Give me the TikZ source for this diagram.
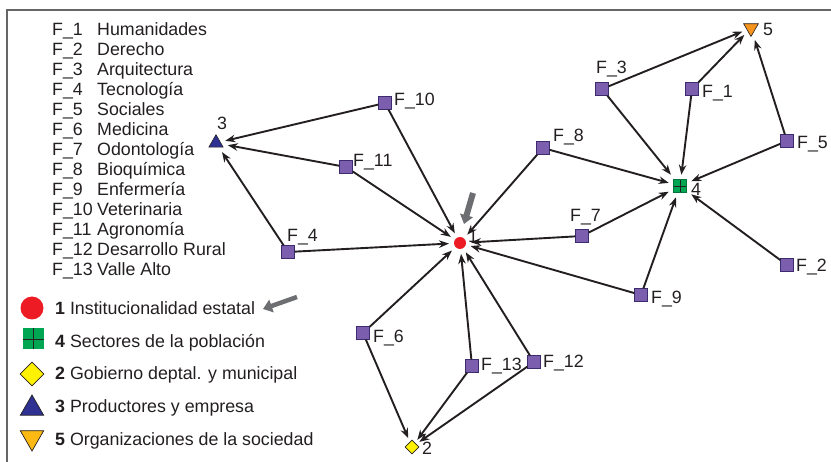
\documentclass[tikz,border=0pt]{standalone}
\usepackage{fontspec}
\setmainfont{Liberation Sans}
\usepackage{xcolor}
\usepackage{tikz}
\usetikzlibrary{shapes.geometric, positioning, arrows.meta}
\definecolor{InkBlack}{HTML}{231F20}
\definecolor{FrameGray}{HTML}{666666}
\definecolor{PointerGray}{HTML}{6D6E71}
\definecolor{FacPurple}{HTML}{7B5FAE}
\definecolor{FacEdge}{HTML}{3C2C6E}
\definecolor{StateRed}{HTML}{ED1C24}
\definecolor{PopGreen}{HTML}{00A651}
\definecolor{GovYellow}{HTML}{FFF200}
\definecolor{ProdBlue}{HTML}{2E3192}
\definecolor{OrgOrange}{HTML}{F7941D}
\definecolor{OrgAmber}{HTML}{FDB913}

\begin{document}
\begin{tikzpicture}[x=1pt, y=-1pt,
    every node/.style={font=\fontsize{17.8}{20}\selectfont, text=InkBlack},
    txt/.style={anchor=base west, inner sep=0pt},
    fac/.style={rectangle, draw=FacEdge, fill=FacPurple, line width=0.8pt, minimum size=12.5pt, inner sep=0pt},
    statenode/.style={circle, fill=StateRed, inner sep=0pt, minimum size=12pt, outer sep=5pt},
    popnode/.style={rectangle, fill=PopGreen, draw=PopGreen!70!black, line width=0.6pt, inner sep=0pt, minimum size=12.5pt, outer sep=5pt,
      path picture={\draw[InkBlack, line width=0.8pt] (path picture bounding box.north) -- (path picture bounding box.south)
        (path picture bounding box.west) -- (path picture bounding box.east);}},
    govnode/.style={diamond, fill=GovYellow, draw=InkBlack, line width=0.6pt, inner sep=0pt, minimum size=17pt, aspect=1, outer sep=4pt},
    prodnode/.style={regular polygon, regular polygon sides=3, fill=ProdBlue, draw=InkBlack, line width=0.6pt, inner sep=0pt, minimum size=16.5pt, outer sep=5pt},
    orgnode/.style={regular polygon, regular polygon sides=3, shape border rotate=180, fill=OrgOrange, draw=InkBlack, line width=0.6pt, inner sep=0pt, minimum size=17pt, outer sep=5pt},
    link/.style={InkBlack, line width=1.9pt, -{Stealth[length=10pt, width=7.5pt]}},
    pointer/.style={PointerGray, line width=5pt, -{Triangle[length=9pt, width=13pt]}}]
  \useasboundingbox (0,0) rectangle (831,462);
  % Frame
  \draw[FrameGray, line width=2pt] (7,462) -- (7,10) -- (831,10);
  % Faculty list
  \node[txt] (lf1) at (52,36) {\makebox[45pt][l]{F\_1}Humanidades};
  \node[txt] (lf2) at (52,56) {\makebox[45pt][l]{F\_2}Derecho};
  \node[txt] (lf3) at (52,76) {\makebox[45pt][l]{F\_3}Arquitectura};
  \node[txt] (lf4) at (52,96) {\makebox[45pt][l]{F\_4}Tecnología};
  \node[txt] (lf5) at (52,116) {\makebox[45pt][l]{F\_5}Sociales};
  \node[txt] (lf6) at (52,136) {\makebox[45pt][l]{F\_6}Medicina};
  \node[txt] (lf7) at (52,156) {\makebox[45pt][l]{F\_7}Odontología};
  \node[txt] (lf8) at (52,176) {\makebox[45pt][l]{F\_8}Bioquímica};
  \node[txt] (lf9) at (52,196) {\makebox[45pt][l]{F\_9}Enfermería};
  \node[txt] (lf10) at (52,216) {\makebox[45pt][l]{F\_10}Veterinaria};
  \node[txt] (lf11) at (52,236) {\makebox[45pt][l]{F\_11}Agronomía};
  \node[txt] (lf12) at (52,256) {\makebox[45pt][l]{F\_12}Desarrollo Rural};
  \node[txt] (lf13) at (52,276) {\makebox[45pt][l]{F\_13}Valle Alto};
  % Actor legend
  \node[circle, fill=StateRed, minimum size=23pt, inner sep=0pt] (ls1) at (32,308) {};
  \node[rectangle, fill=PopGreen, minimum size=21pt, inner sep=0pt,
    path picture={\draw[InkBlack, line width=0.8pt] (path picture bounding box.north) -- (path picture bounding box.south)
      (path picture bounding box.west) -- (path picture bounding box.east);}] (ls4) at (33,339) {};
  \node[diamond, aspect=1, fill=GovYellow, draw=InkBlack, line width=0.7pt, minimum size=24pt, inner sep=0pt] (ls2) at (32,374) {};
  \node[regular polygon, regular polygon sides=3, fill=ProdBlue, draw=InkBlack, line width=0.7pt, minimum size=27pt, inner sep=0pt] (ls3) at (32,408.5) {};
  \node[regular polygon, regular polygon sides=3, shape border rotate=180, fill=OrgAmber, draw=InkBlack, line width=0.7pt, minimum size=27pt, inner sep=0pt] (ls5) at (32,437.5) {};
  \node[txt] (lt1) at (55,315) {\textbf{1} Institucionalidad estatal};
  \node[txt] (lt4) at (55,347.5) {\textbf{4} Sectores de la población};
  \node[txt] (lt2) at (55,380) {\textbf{2} Gobierno deptal. y municipal};
  \node[txt] (lt3) at (55,413) {\textbf{3} Productores y empresa};
  \node[txt] (lt5) at (55,446) {\textbf{5} Organizaciones de la sociedad};
  \coordinate (ptrB) at (297,297);
  \coordinate (ptrBtip) at (263,309);
  \draw[pointer, line width=4.5pt] (ptrB) -- (ptrBtip);
  % Actors
  \node[statenode] (n1) at (460,243) {};
  \node[govnode] (n2) at (412,447) {};
  \node[prodnode] (n3) at (216,143) {};
  \node[popnode] (n4) at (680,186) {};
  \node[orgnode] (n5) at (751,28) {};
  \node[txt] (n1l) at (468,243) {1};
  \node[txt] (n2l) at (422,455) {2};
  \node[txt] (n3l) at (217,130) {3};
  \node[txt] (n4l) at (691,196) {4};
  \node[txt] (n5l) at (763,36) {5};
  % Faculties
  \node[fac] (f1) at (692,89) {};
  \node[fac] (f2) at (787,265) {};
  \node[fac] (f3) at (602,89) {};
  \node[fac] (f4) at (288,252) {};
  \node[fac] (f5) at (787,141) {};
  \node[fac] (f6) at (363,333) {};
  \node[fac] (f7) at (582,236) {};
  \node[fac] (f8) at (543,148) {};
  \node[fac] (f9) at (641,295) {};
  \node[fac] (f10) at (385,103) {};
  \node[fac] (f11) at (346,167) {};
  \node[fac] (f12) at (534,362) {};
  \node[fac] (f13) at (472,366) {};
  \node[txt] (f1l) at (702,98) {F\_1};
  \node[txt] (f2l) at (796,272) {F\_2};
  \node[txt] (f3l) at (596,74) {F\_3};
  \node[txt] (f4l) at (287,242) {F\_4};
  \node[txt] (f5l) at (797,149) {F\_5};
  \node[txt] (f6l) at (373,343) {F\_6};
  \node[txt] (f7l) at (570,222) {F\_7};
  \node[txt] (f8l) at (553,142) {F\_8};
  \node[txt] (f9l) at (651,304) {F\_9};
  \node[txt] (f10l) at (394,106) {F\_10};
  \node[txt] (f11l) at (353,167) {F\_11};
  \node[txt] (f12l) at (543,368) {F\_12};
  \node[txt] (f13l) at (481,371) {F\_13};
  % Links
  \draw[link] (f3) -- (n5);
  \draw[link] (f1) -- (n5);
  \draw[link] (f5) -- (n5);
  \draw[link] (f3) -- (n4);
  \draw[link] (f1) -- (n4);
  \draw[link] (f5) -- (n4);
  \draw[link] (f8) -- (n4);
  \draw[link] (f7) -- (n4);
  \draw[link] (f9) -- (n4);
  \draw[link] (f2) -- (n4);
  \draw[link] (f10) -- (n3);
  \draw[link] (f11) -- (n3);
  \draw[link] (f4) -- (n3);
  \draw[link] (f10) -- (n1);
  \draw[link] (f11) -- (n1);
  \draw[link] (f4) -- (n1);
  \draw[link] (f8) -- (n1);
  \draw[link] (f7) -- (n1);
  \draw[link] (f9) -- (n1);
  \draw[link] (f6) -- (n1);
  \draw[link] (f13) -- (n1);
  \draw[link] (f12) -- (n1);
  \draw[link] (f6) -- (n2);
  \draw[link] (f13) -- (n2);
  \draw[link] (f12) -- (n2);
  % Pointer to the state node
  \coordinate (ptrA) at (473,193);
  \coordinate (ptrAtip) at (464,224);
  \draw[pointer, line width=6pt] (ptrA) -- (ptrAtip);
\end{tikzpicture}
\end{document}
